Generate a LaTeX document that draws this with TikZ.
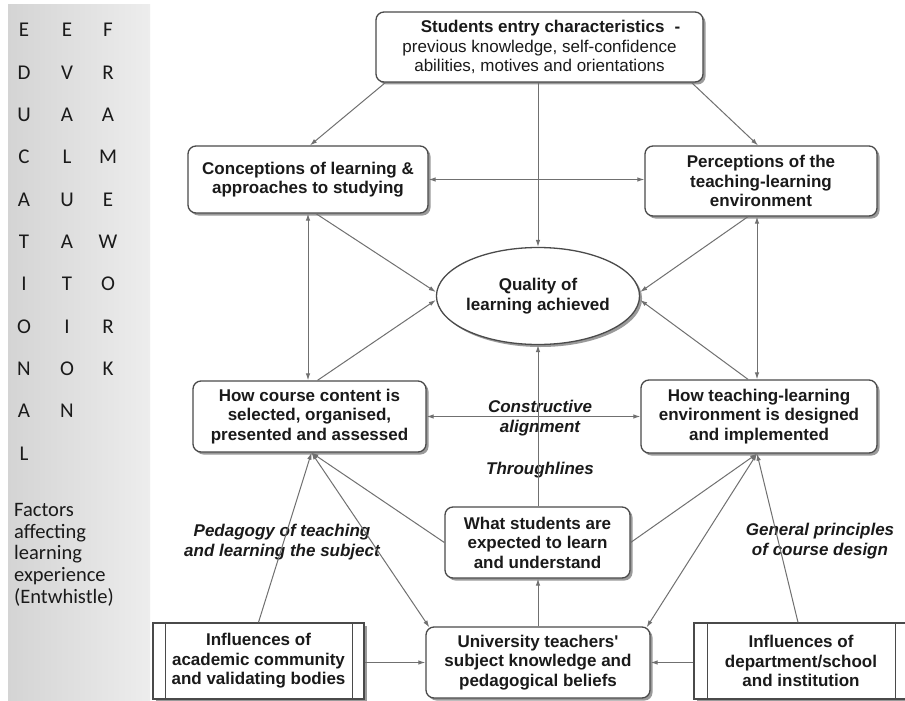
\documentclass[tikz,border=0pt]{standalone}
\usepackage{fontspec}
\setmainfont{Liberation Sans}[Ligatures=TeXOff]
\newfontfamily\panelfont{Carlito}
\usetikzlibrary{arrows.meta,shapes.geometric,shadows,calc}
\definecolor{linegray}{HTML}{707070}
\definecolor{boxline}{HTML}{4A4A4A}
\definecolor{txt}{HTML}{1A1A1A}
\definecolor{shadowgray}{HTML}{9A9A9A}
\definecolor{panelL}{HTML}{D4D4D4}
\definecolor{panelR}{HTML}{EDEDED}
\begin{document}
\begin{tikzpicture}[x=1pt,y=-1pt,
  boxfont/.style={font=\fontsize{17}{19.5}\selectfont\bfseries},
  shad/.style={drop shadow={shadow xshift=2.5pt,shadow yshift=-2.5pt,fill=shadowgray,opacity=1}},
  rbox/.style={draw=boxline,line width=1.3pt,rounded corners=8pt,fill=white,align=center,text=txt,inner sep=0pt,boxfont,shad},
  pbox/.style={draw=boxline,line width=1.3pt,fill=white,align=center,text=txt,inner sep=0pt,boxfont,shad},
  ellbox/.style={ellipse,draw=boxline,line width=1.3pt,fill=white,align=center,text=txt,inner sep=0pt,boxfont,shad},
  conn/.style={draw=linegray,line width=1pt,-{Latex[length=7pt,width=4.5pt]}},
  dconn/.style={draw=linegray,line width=1pt,{Latex[length=7pt,width=4.5pt]}-{Latex[length=7pt,width=4.5pt]}},
  inner/.style={draw=boxline,line width=1.3pt},
  lbl/.style={font=\fontsize{17}{20}\selectfont\bfseries\itshape,text=txt,align=center,inner sep=0pt},
  letter/.style={font=\panelfont\fontsize{21}{22}\selectfont,text=txt,anchor=base,inner sep=0pt},
  factor/.style={font=\panelfont\fontsize{20.5}{22}\selectfont,text=txt,anchor=base west,inner sep=0pt},
]
\useasboundingbox (0,0) rectangle (905,701);
\fill[white] (0,0) rectangle (905,701);
% left panel
\shade[left color=panelL,right color=panelR] (8,5) rectangle (150,701);
\foreach[count=\i from 0] \c in {E,D,U,C,A,T,I,O,N,A,L}
  \node[letter] (la\i) at ({24},{37+42.3*\i}) {\c};
\foreach[count=\i from 0] \c in {E,V,A,L,U,A,T,I,O,N}
  \node[letter] (lb\i) at ({67},{37+42.3*\i}) {\c};
\foreach[count=\i from 0] \c in {F,R,A,M,E,W,O,R,K}
  \node[letter] (lc\i) at ({108},{37+42.3*\i}) {\c};
\node[factor] (f1) at (14,516.5) {Factors};
\node[factor] (f2) at (14,538.2) {affecting};
\node[factor] (f3) at (14,559.9) {learning};
\node[factor] (f4) at (14,581.6) {experience};
\node[factor] (f5) at (14,603.3) {(Entwhistle)};

% boxes
\node[rbox,minimum width=327pt,minimum height=70pt] (entry) at (539.5,47)
  {\hspace*{22pt}Students entry characteristics\hspace{10pt}-\\
   {\mdseries previous knowledge, self-confidence}\\
   {\mdseries abilities, motives and orientations}};
\node[rbox,minimum width=240pt,minimum height=67pt] (concept) at (308,179.5)
  {Conceptions of learning \&\\approaches to studying};
\node[rbox,minimum width=232pt,minimum height=70pt] (percep) at (761,181)
  {Perceptions of the\\teaching-learning\\environment};
\node[ellbox,minimum width=192pt,minimum height=97pt] (quality) at (538,296)
  {Quality of\\learning achieved};
\node[rbox,minimum width=233pt,minimum height=71pt] (course) at (309.5,416.5)
  {How course content is\\selected, organised,\\presented and assessed};
\node[rbox,minimum width=236pt,minimum height=73pt] (teach) at (759,416.5)
  {How teaching-learning\\environment is designed\\and implemented};
\node[rbox,minimum width=185pt,minimum height=71pt] (what) at (537.5,542.5)
  {What students are\\expected to learn\\and understand};
\node[rbox,minimum width=224pt,minimum height=71pt] (univ) at (538,662.5)
  {University teachers'\\subject knowledge and\\pedagogical beliefs};
\node[pbox,minimum width=211pt,minimum height=76pt] (acad) at (258.5,661)
  {Influences of\\academic community\\and validating bodies};
\node[pbox,minimum width=214pt,minimum height=76pt] (dept) at (801,661)
  {Influences of\\department/school\\and institution};
\draw[inner] ([xshift=13pt]acad.north west) -- ([xshift=13pt]acad.south west);
\draw[inner] ([xshift=-12pt]acad.north east) -- ([xshift=-12pt]acad.south east);
\draw[inner] ([xshift=14pt]dept.north west) -- ([xshift=14pt]dept.south west);
\draw[inner] ([xshift=-13pt]dept.north east) -- ([xshift=-13pt]dept.south east);

% labels
\node[lbl] (ca) at (540,418) {Constructive\\alignment};
\node[lbl] (tl) at (540,470) {Throughlines};
\node[lbl] (ped) at (282,542) {Pedagogy of teaching\\and learning the subject};
\node[lbl] (gen) at (820,541) {General principles\\of course design};

% connectors
\coordinate (cb) at ([xshift=2pt]course.south);
\coordinate (tb) at ([xshift=-2pt]teach.south);
\draw[conn] ([xshift=10pt]entry.south west) -- ([xshift=2pt]concept.north);
\draw[conn] ([xshift=-12pt]entry.south east) -- ([xshift=-3pt]percep.north);
\draw[conn] (quality.north |- entry.south) -- (quality.north);
\draw[dconn] (concept.east) -- (concept.east -| percep.west);
\draw[dconn] (concept.south) -- (concept.south |- course.north);
\draw[conn] ([xshift=8pt]concept.south) -- ([yshift=4pt]quality.west);
\draw[conn] ([xshift=8pt]course.north) -- ([yshift=-4pt]quality.west);
\draw[dconn] ([xshift=-4pt]percep.south) -- ([xshift=-4pt]percep.south |- teach.north);
\draw[conn] ([xshift=-13pt]percep.south) -- ([yshift=4pt]quality.east);
\draw[conn] ([xshift=-11pt]teach.north) -- ([yshift=-4pt]quality.east);
\draw[dconn] (course.east) -- (course.east -| teach.west);
\draw[conn] (quality.south |- what.north) -- (quality.south);
\draw[conn] (what.west) -- (cb);
\draw[conn] (what.east) -- (tb);
\draw[conn] (univ.north) -- (univ.north |- what.south);
\draw[conn] (acad.north) -- (cb);
\draw[dconn] ([xshift=4pt,yshift=-1pt]univ.north west) -- (cb);
\draw[dconn] ([xshift=-4pt,yshift=-1pt]univ.north east) -- (tb);
\draw[conn] ([xshift=-3pt]dept.north) -- (tb);
\draw[conn] (acad.east |- univ.west) -- (univ.west);
\draw[conn] (dept.west |- univ.east) -- (univ.east);
\end{tikzpicture}
\end{document}
